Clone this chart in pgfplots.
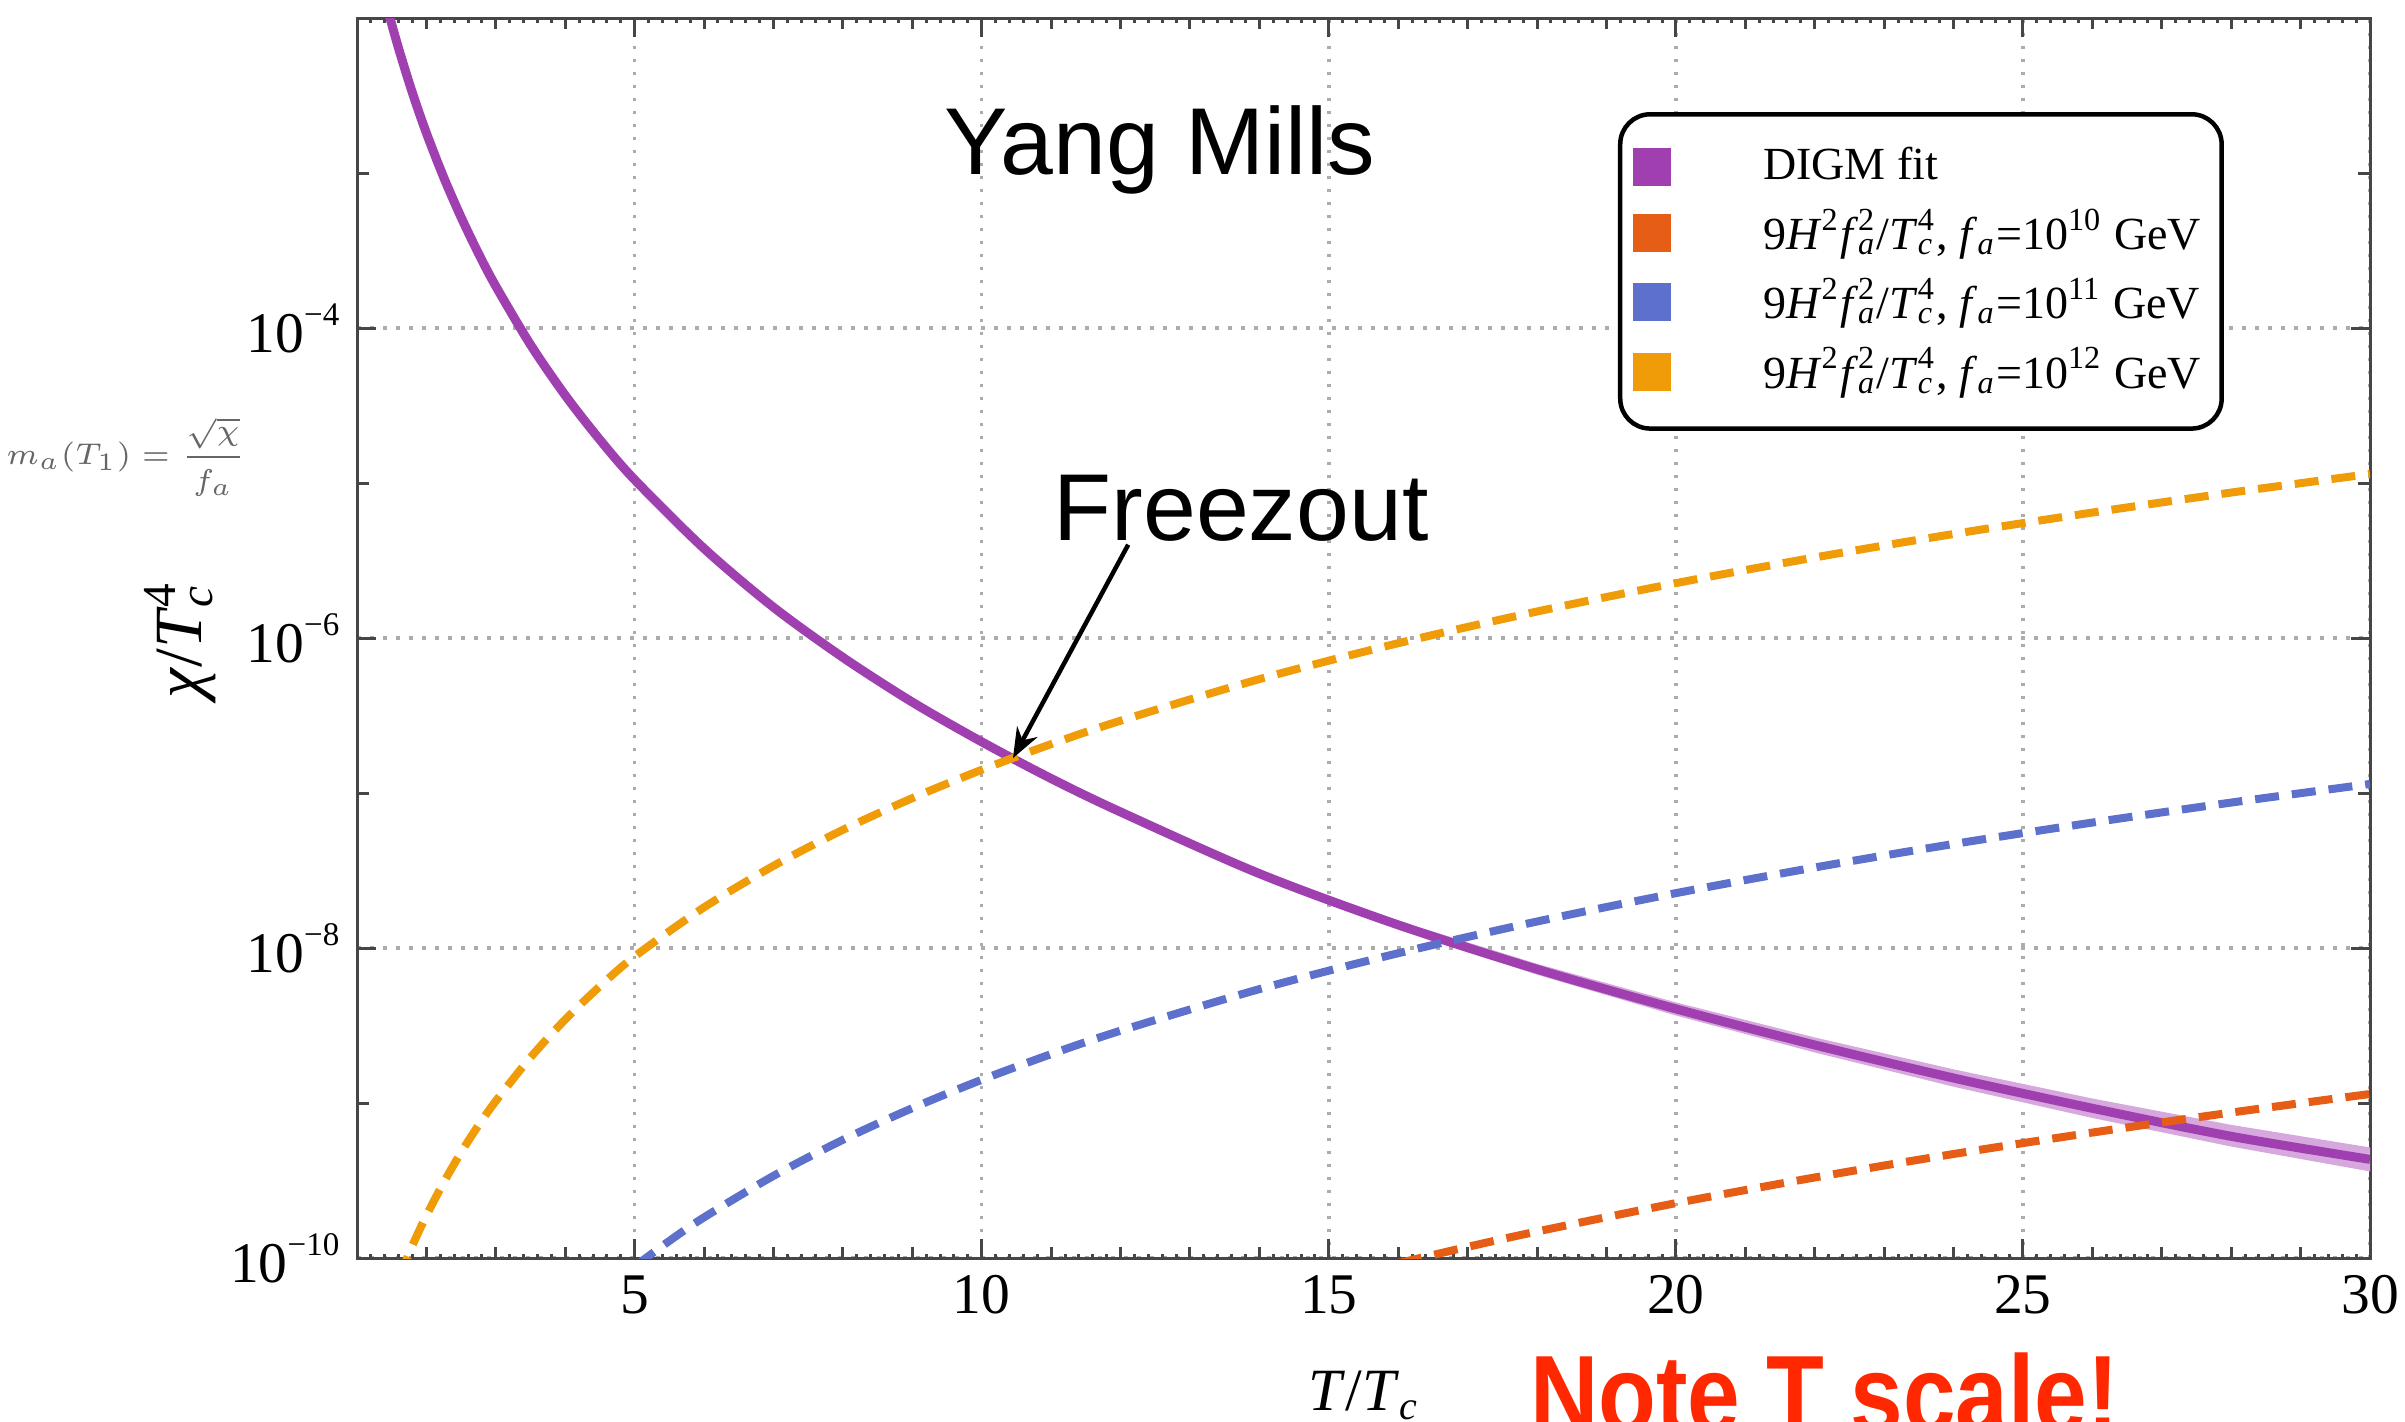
\documentclass[border=0pt]{standalone}
\usepackage[no-math]{fontspec}
\setmainfont{Liberation Serif}
\setsansfont{Liberation Sans}
\usepackage{graphicx}
\usepackage{pgfplots}
\pgfplotsset{compat=1.18}
\usetikzlibrary{arrows.meta}

\definecolor{digm}{RGB}{160,64,176}
\definecolor{digmband}{RGB}{214,168,222}
\definecolor{faten}{RGB}{230,94,22}
\definecolor{faeleven}{RGB}{92,112,204}
\definecolor{fatwelve}{RGB}{240,156,8}
\definecolor{gridgray}{RGB}{172,172,172}
\definecolor{axisgray}{RGB}{70,70,70}
\definecolor{notered}{RGB}{255,40,0}

% tick label 10^n in the text font
\newcommand{\tenpow}[1]{10\raisebox{5.4pt}{\fontsize{6.6}{7}\selectfont #1}}
% subscript with a superscript stacked above it
\newcommand{\subsup}[2]{\rlap{\textsubscript{#1}}\textsuperscript{#2}}
\newcommand{\hubble}[1]{9\textit{H}\textsuperscript{2}\textit{f}\subsup{\textit{a}}{2}/\textit{T}\subsup{\textit{c}}{4}, \textit{f}\textsubscript{\textit{a}}=10\textsuperscript{#1} GeV}

\begin{document}
\begin{tikzpicture}
\path[use as bounding box] (-71.4pt,-32.6pt) rectangle (409.6pt,251.6pt);
\begin{axis}[
  scale only axis, width=402.6pt, height=248pt,
  xmin=1, xmax=30,
  ymode=log, ymin=1e-10, ymax=1e-2,
  /pgf/number format/assume math mode=true,
  xtick={5,10,15,20,25,30},
  extra x ticks={2,3,4,6,7,8,9,11,12,13,14,16,17,18,19,21,22,23,24,26,27,28,29},
  extra x tick labels={},
  extra x tick style={grid=none, major tick length=2.2pt},
  minor xtick={1,1.2,...,30},
  ytick={1e-10,1e-8,1e-6,1e-4},
  yticklabels={\tenpow{−10},\tenpow{−8},\tenpow{−6},\tenpow{−4}},
  extra y ticks={1e-9,1e-7,1e-5,1e-3},
  extra y tick labels={},
  extra y tick style={grid=none, major tick length=2.4pt},
  minor y tick style={draw=none},
  major tick length=3.8pt, minor tick length=0.9pt,
  tick style={axisgray, line width=0.6pt},
  axis line style={axisgray, line width=0.6pt},
  tick label style={font=\fontsize{11.5}{12}\selectfont},
  grid=major,
  major grid style={gridgray, line width=0.7pt, dash pattern=on 0.7pt off 1.9pt},
  legend cell align=left,
  legend image code/.code={\fill[sharp corners, draw=none, solid] (0pt,-3.8pt) rectangle (7.6pt,3.8pt); \path (23.6pt,0pt);},
  legend style={at={(0.6264,0.9242)}, anchor=north west, draw=black, line width=0.9pt,
    rounded corners=6pt, font=\fontsize{9.2}{10.5}\selectfont,
    inner xsep=2.5pt, inner ysep=5.0pt, row sep=1.1pt, nodes={inner sep=1.6pt}},
]
% uncertainty band of the fit
\addplot[draw=none, fill=digmband, forget plot] coordinates {
  (8,7.50e-7) (10,2.175e-7) (12,7.74e-8) (14,3.15e-8) (16,1.50e-8) (18,7.91e-9)
  (20,4.46e-9) (22,2.65e-9) (24,1.65e-9) (26,1.07e-9) (28,7.23e-10) (30,5.17e-10)
  (30,3.62e-10) (28,5.24e-10) (26,8.01e-10) (24,1.275e-9) (22,2.12e-9) (20,3.67e-9)
  (18,6.73e-9) (16,1.325e-8) (14,2.86e-8) (12,7.26e-8) (10,2.104e-7) (8,7.50e-7)
};
% DIGM fit
\addplot[color=digm, line width=1.8pt, smooth] coordinates {
  (1.45,1.10e-2) (1.6,6.35e-3) (1.8,3.27e-3) (2,1.81e-3) (2.25,9.35e-4) (2.5,5.18e-4)
  (2.75,3.03e-4) (3,1.86e-4) (3.5,7.80e-5) (4,3.68e-5) (4.5,1.90e-5) (5,1.05e-5)
  (6,3.78e-6) (7,1.58e-6) (8,7.50e-7) (9,3.86e-7) (10,2.14e-7) (11,1.24e-7)
  (12,7.55e-8) (14,3.02e-8) (16,1.41e-8) (18,7.3e-9) (20,4.05e-9) (22,2.37e-9)
  (24,1.45e-9) (26,9.25e-10) (28,6.1e-10) (30,4.33e-10)
};
\addlegendentry{DIGM fit}
% f_a = 1e10 GeV
\addplot[color=faten, line width=1.6pt, smooth, dash pattern=on 4.8pt off 2.6pt] coordinates {
  (16,9.26e-11) (17,1.18e-10) (18,1.483e-10) (20,2.26e-10) (22,3.31e-10) (24,4.69e-10)
  (26,6.45e-10) (28,8.68e-10) (30,1.144e-9)
};
\addlegendentry{\hubble{10}}
% f_a = 1e11 GeV
\addplot[color=faeleven, line width=1.6pt, smooth, dash pattern=on 4.8pt off 2.6pt] coordinates {
  (5,8.83e-11) (5.5,1.29e-10) (6,1.831e-10) (7,3.39e-10) (8,5.79e-10) (9,9.27e-10)
  (10,1.4125e-9) (11,2.068e-9) (12,2.929e-9) (14,5.43e-9) (16,9.26e-9) (18,1.483e-8)
  (20,2.26e-8) (22,3.31e-8) (24,4.69e-8) (26,6.45e-8) (28,8.68e-8) (30,1.144e-7)
};
\addlegendentry{\hubble{11}}
% f_a = 1e12 GeV
\addplot[color=fatwelve, line width=1.6pt, smooth, dash pattern=on 4.8pt off 2.6pt] coordinates {
  (1.6,7.36e-11) (1.8,1.21e-10) (2,1.88e-10) (2.25,3.08e-10) (2.5,4.81e-10) (2.75,7.18e-10)
  (3,1.03e-9) (3.5,1.97e-9) (4,3.46e-9) (4.5,5.67e-9) (5,8.83e-9) (6,1.831e-8)
  (7,3.39e-8) (8,5.79e-8) (9,9.27e-8) (10,1.4125e-7) (11,2.068e-7) (12,2.929e-7)
  (14,5.43e-7) (16,9.26e-7) (18,1.483e-6) (20,2.26e-6) (22,3.31e-6) (24,4.69e-6)
  (26,6.45e-6) (28,8.68e-6) (30,1.144e-5)
};
\addlegendentry{\hubble{12}}
% freeze-out marker
\draw[black, line width=0.9pt, -{Stealth[length=6pt, width=4.6pt]}]
  (axis cs:12.11,4.0e-6) -- (axis cs:10.45,1.68e-7);
\end{axis}

\node[anchor=base, font=\sffamily\fontsize{19}{19}\selectfont] at (160.6pt,216.6pt) {Yang Mills};
\node[anchor=base, font=\sffamily\fontsize{19}{19}\selectfont] at (176.8pt,143.6pt) {Freezout};
\node[text=black!60, font=\fontsize{5.7}{7}\selectfont] at (-46.2pt,160.2pt) {$\displaystyle m_a(T_1) = \frac{\sqrt{\chi}}{f_a}$};
\node[rotate=90, font=\fontsize{13.5}{14}\selectfont] at (-35.4pt,123.6pt) {\textit{χ}/\textit{T}\subsup{\textit{c}}{4}};
\node[font=\fontsize{12}{13}\selectfont] at (201.4pt,-27.4pt) {\textit{T}/\textit{T}\textsubscript{\textit{c}}};
\node[anchor=base west, inner sep=0pt, text=notered, font=\sffamily\bfseries\fontsize{22}{22}\selectfont] at (234.4pt,-34.8pt) {\scalebox{0.86}[1]{Note T scale!}};
\end{tikzpicture}
\end{document}
